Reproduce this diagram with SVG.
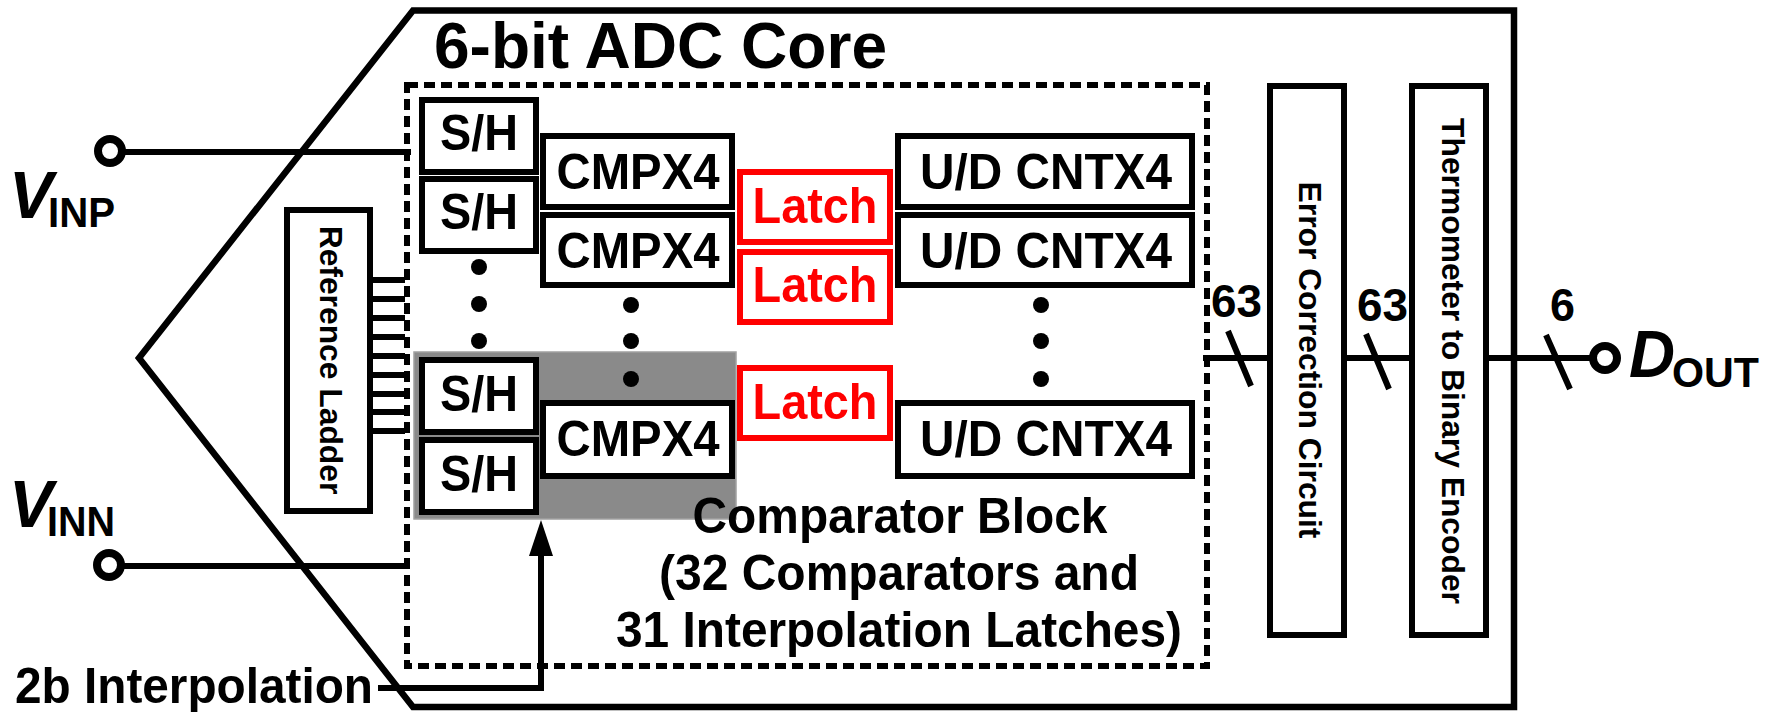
<svg xmlns="http://www.w3.org/2000/svg" width="1771" height="712" viewBox="0 0 1771 712">
<style>
text{font-family:"Liberation Sans",Arial,sans-serif;font-weight:bold;fill:#000}
.b{fill:#fff;stroke:#000;stroke-width:6}
.r{fill:#fff;stroke:#f00;stroke-width:6}
.l{fill:none;stroke:#000;stroke-width:6}
.t{font-size:50px;text-anchor:middle}
.v{font-size:31.800px;text-anchor:middle}
.i{font-size:66px;font-style:italic}
.s{font-size:43px}
.n{font-size:47px}
.c{font-size:50px;text-anchor:middle}
.d{fill:#000}
</style>
<rect width="1771" height="712" fill="#fff"/>
<g id="chip"><path d="M1514 10.500H413L139 358L413 707H1514Z" fill="none" stroke="#000" stroke-width="6.500"/></g>
<rect id="highlight" x="414" y="352" width="322" height="167" fill="#8a8a8a" stroke="#a0a0a0" stroke-width="1.500"/>
<rect id="comparator-block" x="407" y="85" width="800" height="581" fill="none" stroke="#000" stroke-width="6" stroke-dasharray="11 6"/>
<g id="title"><text x="434" y="68" font-size="65" textLength="453" lengthAdjust="spacingAndGlyphs">6-bit ADC Core</text></g>
<g id="connectors">
<path class="l" d="M122 152H411M122 566H410M1203 358H1267M1347 358H1409M1489 358H1592"/>
<path class="l" d="M367 280H405M367 299H405M367 318H405M367 337H405M367 356H405M367 375H405M367 394H405M367 412H405M367 431H405"/>
<path class="l" d="M378 688H544M541 691V552"/>
<path d="M541 520L553 556H529Z" fill="#000"/>
<path class="l" d="M1228 331L1251 386M1366 334L1389 389M1546 335L1570 389"/>
</g>
<g id="vinp"><circle class="l" cx="110" cy="151" r="12" style="stroke-width:8"/><text class="i" x="9" y="218" textLength="44" lengthAdjust="spacingAndGlyphs">V</text><text class="s" x="48" y="227" textLength="67" lengthAdjust="spacingAndGlyphs">INP</text></g>
<g id="vinn"><circle class="l" cx="109" cy="565" r="12" style="stroke-width:8"/><text class="i" x="9" y="527" textLength="44" lengthAdjust="spacingAndGlyphs">V</text><text class="s" x="47" y="536" textLength="68" lengthAdjust="spacingAndGlyphs">INN</text></g>
<g id="dout"><circle class="l" cx="1605" cy="358" r="12" style="stroke-width:8"/><text class="i" x="1629" y="377" textLength="46" lengthAdjust="spacingAndGlyphs">D</text><text class="s" x="1672" y="387" textLength="87" lengthAdjust="spacingAndGlyphs">OUT</text></g>
<g id="interp"><text x="15" y="703" font-size="50" textLength="358" lengthAdjust="spacingAndGlyphs">2b Interpolation</text></g>
<g id="reference-ladder"><rect class="b" x="287" y="210" width="83" height="301"/><text class="v" transform="translate(320 360) rotate(90)">Reference Ladder</text></g>
<g id="sh1"><rect class="b" x="422" y="100" width="114" height="72"/><text class="t" x="479" y="150" textLength="78" lengthAdjust="spacingAndGlyphs">S/H</text></g>
<g id="sh2"><rect class="b" x="422" y="179" width="114" height="72"/><text class="t" x="479" y="229" textLength="78" lengthAdjust="spacingAndGlyphs">S/H</text></g>
<g id="sh3"><rect class="b" x="422" y="360" width="114" height="72"/><text class="t" x="479" y="411" textLength="78" lengthAdjust="spacingAndGlyphs">S/H</text></g>
<g id="sh4"><rect class="b" x="422" y="440" width="114" height="72"/><text class="t" x="479" y="491" textLength="78" lengthAdjust="spacingAndGlyphs">S/H</text></g>
<g id="dots" class="d"><circle cx="479" cy="267" r="8"/><circle cx="479" cy="304" r="8"/><circle cx="479" cy="341" r="8"/><circle cx="631" cy="305" r="8"/><circle cx="631" cy="341" r="8"/><circle cx="631" cy="379" r="8"/><circle cx="1041" cy="305" r="8"/><circle cx="1041" cy="341" r="8"/><circle cx="1041" cy="379" r="8"/></g>
<g id="cmp1"><rect class="b" x="543" y="136" width="189" height="71"/><text class="t" x="638" y="189" textLength="163" lengthAdjust="spacingAndGlyphs">CMPX4</text></g>
<g id="cmp2"><rect class="b" x="543" y="215" width="189" height="70"/><text class="t" x="638" y="268" textLength="163" lengthAdjust="spacingAndGlyphs">CMPX4</text></g>
<g id="cmp3"><rect class="b" x="543" y="403" width="189" height="73"/><text class="t" x="638" y="456" textLength="163" lengthAdjust="spacingAndGlyphs">CMPX4</text></g>
<g id="latch1"><rect class="r" x="740" y="172" width="150" height="70"/><text class="t" x="815" y="223" style="fill:#f00" textLength="125" lengthAdjust="spacingAndGlyphs">Latch</text></g>
<g id="latch2"><rect class="r" x="740" y="252" width="150" height="70"/><text class="t" x="815" y="302" style="fill:#f00" textLength="125" lengthAdjust="spacingAndGlyphs">Latch</text></g>
<g id="latch3"><rect class="r" x="740" y="368" width="150" height="70"/><text class="t" x="815" y="419" style="fill:#f00" textLength="125" lengthAdjust="spacingAndGlyphs">Latch</text></g>
<g id="ud1"><rect class="b" x="898" y="136" width="294" height="71"/><text class="t" x="1046" y="189" textLength="252" lengthAdjust="spacingAndGlyphs">U/D CNTX4</text></g>
<g id="ud2"><rect class="b" x="898" y="215" width="294" height="70"/><text class="t" x="1046" y="268" textLength="252" lengthAdjust="spacingAndGlyphs">U/D CNTX4</text></g>
<g id="ud3"><rect class="b" x="898" y="403" width="294" height="73"/><text class="t" x="1046" y="456" textLength="252" lengthAdjust="spacingAndGlyphs">U/D CNTX4</text></g>
<g id="caption"><text class="c" x="900" y="533" textLength="415" lengthAdjust="spacingAndGlyphs">Comparator Block</text><text class="c" x="899" y="590" textLength="480" lengthAdjust="spacingAndGlyphs">(32 Comparators and</text><text class="c" x="899" y="647" textLength="566" lengthAdjust="spacingAndGlyphs">31 Interpolation Latches)</text></g>
<g id="error-correction"><rect class="b" x="1270" y="86" width="74" height="549"/><text class="v" transform="translate(1298.500 360) rotate(90)">Error Correction Circuit</text></g>
<g id="thermometer"><rect class="b" x="1412" y="86" width="74" height="549"/><text class="v" transform="translate(1441.500 361) rotate(90)">Thermometer to Binary Encoder</text></g>
<g id="bus-labels"><text class="n" x="1211" y="317" textLength="51" lengthAdjust="spacingAndGlyphs">63</text><text class="n" x="1357" y="321" textLength="51" lengthAdjust="spacingAndGlyphs">63</text><text class="n" x="1550" y="321" textLength="25" lengthAdjust="spacingAndGlyphs">6</text></g>
</svg>
